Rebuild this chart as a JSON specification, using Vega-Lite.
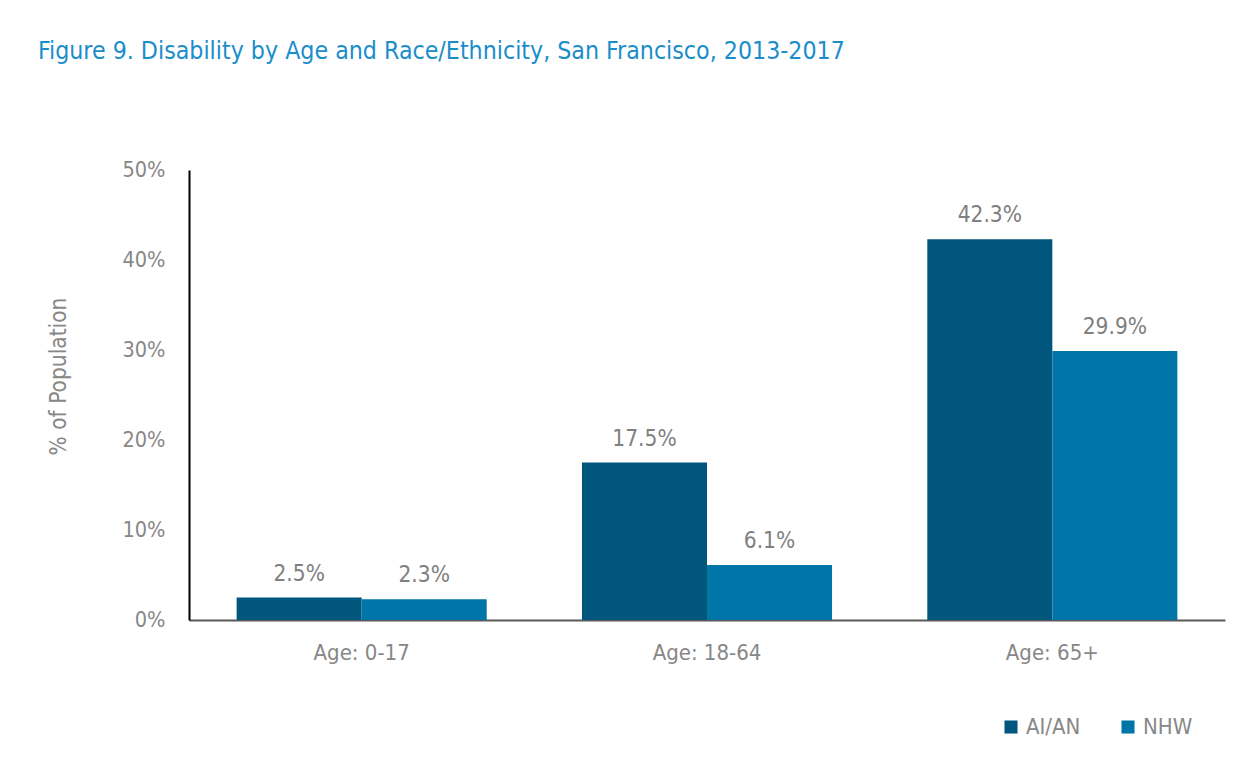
{
  "$schema": "https://vega.github.io/schema/vega-lite/v6.json",
  "autosize": {"type": "none"},
  "width": 1036,
  "height": 450,
  "padding": {"left": 189, "top": 170, "right": 31, "bottom": 149},
  "background": "white",
  "config": {
    "font": "'DejaVu Sans Condensed', 'Liberation Sans', Arial, sans-serif",
    "view": {"stroke": null}
  },
  "title": {
    "text": "Figure 9. Disability by Age and Race/Ethnicity, San Francisco, 2013-2017",
    "anchor": "start",
    "frame": "group",
    "dx": -151,
    "offset": 95,
    "fontSize": 24.7,
    "fontWeight": "normal",
    "color": "#1A8DCB"
  },
  "data": {
    "values": [
      {"age": "Age: 0-17", "group": "AI/AN", "value": 0.025},
      {"age": "Age: 0-17", "group": "NHW", "value": 0.023},
      {"age": "Age: 18-64", "group": "AI/AN", "value": 0.175},
      {"age": "Age: 18-64", "group": "NHW", "value": 0.061},
      {"age": "Age: 65+", "group": "AI/AN", "value": 0.423},
      {"age": "Age: 65+", "group": "NHW", "value": 0.299}
    ]
  },
  "encoding": {
    "x": {
      "field": "age",
      "type": "nominal",
      "sort": null,
      "scale": {"paddingInner": 0, "paddingOuter": 0},
      "axis": {
        "title": null,
        "labelAngle": 0,
        "labelFontSize": 22,
        "labelColor": "#878787",
        "labelPadding": 22,
        "ticks": false,
        "domainColor": "#595959",
        "domainWidth": 2
      }
    },
    "xOffset": {
      "field": "group",
      "type": "nominal",
      "scale": {"paddingOuter": 0.381, "paddingInner": 0}
    },
    "y": {
      "field": "value",
      "type": "quantitative",
      "scale": {"domain": [0, 0.5]},
      "axis": {
        "format": ".0%",
        "values": [0, 0.1, 0.2, 0.3, 0.4, 0.5],
        "grid": false,
        "ticks": false,
        "domainColor": "#000000",
        "domainWidth": 2,
        "labelFontSize": 21.5,
        "labelColor": "#878787",
        "labelPadding": 24,
        "title": "% of Population",
        "titleFontSize": 22.5,
        "titleFontWeight": "normal",
        "titleColor": "#878787",
        "titleX": -131,
        "titleY": 206,
        "titleAngle": -90,
        "titleAlign": "center",
        "titleBaseline": "middle"
      }
    }
  },
  "layer": [
    {
      "mark": {"type": "bar"},
      "encoding": {
        "color": {
          "field": "group",
          "type": "nominal",
          "scale": {"domain": ["AI/AN", "NHW"], "range": ["#00567D", "#0075A8"]},
          "legend": {
            "title": null,
            "orient": "none",
            "legendX": 811,
            "legendY": 546,
            "direction": "horizontal",
            "symbolType": "square",
            "symbolSize": 170,
            "symbolStrokeWidth": 0,
            "labelFontSize": 22,
            "labelColor": "#878787",
            "labelOffset": 4,
            "columnPadding": 36
          }
        }
      }
    },
    {
      "mark": {"type": "text", "baseline": "bottom", "dy": -12, "fontSize": 22.5, "color": "#808080"},
      "encoding": {
        "text": {"field": "value", "type": "quantitative", "format": ".1%"}
      }
    }
  ]
}
